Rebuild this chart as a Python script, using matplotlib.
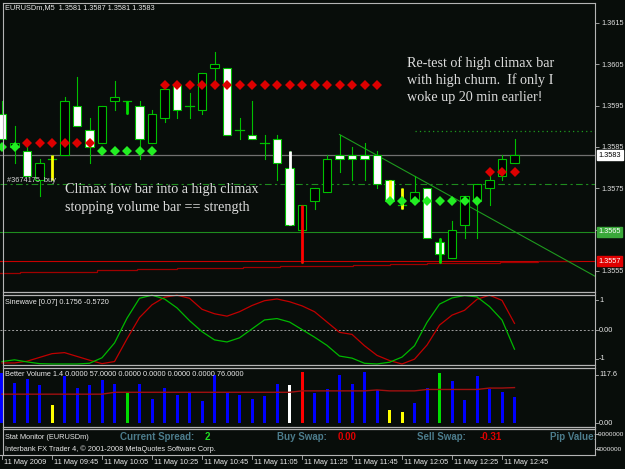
import numpy as np
import matplotlib
matplotlib.use('Agg')
import matplotlib.pyplot as plt
from matplotlib.patches import Rectangle
from matplotlib.lines import Line2D

# ---- data (EURUSDm, M5, 11 May 2009) ----
opens = [1.3593, 1.3585, 1.3584, 1.3577, 1.3582, 1.3583, 1.3595, 1.3589, 1.3586, 1.3596,
         1.3596, 1.3595, 1.3586, 1.3592, 1.3600, 1.3595, 1.3594, 1.3604, 1.3604, 1.3589,
         1.3588, 1.3586, 1.3587, 1.3580, 1.3565, 1.3572, 1.3574, 1.3583, 1.3583, 1.3583,
         1.3583, 1.3577, 1.3571, 1.3572, 1.3575, 1.3562, 1.3558, 1.3566, 1.3572, 1.3575,
         1.3578, 1.3581]
highs = [1.3596, 1.3590, 1.3585, 1.3582, 1.3583, 1.3597, 1.3602, 1.3592, 1.3595, 1.3601,
         1.3596, 1.3596, 1.3594, 1.3599, 1.3600, 1.3598, 1.3603, 1.3608, 1.3604, 1.3592,
         1.3596, 1.3588, 1.3588, 1.3584, 1.3571, 1.3575, 1.3583, 1.3588, 1.3585, 1.3586,
         1.3584, 1.3577, 1.3575, 1.3578, 1.3575, 1.3563, 1.3567, 1.3573, 1.3576, 1.3578,
         1.3583, 1.3587]
lows = [1.3587, 1.3581, 1.3578, 1.3573, 1.3577, 1.3583, 1.3590, 1.3581, 1.3586, 1.3594,
        1.3593, 1.3582, 1.3586, 1.3591, 1.3592, 1.3592, 1.3593, 1.3601, 1.3588, 1.3587,
        1.3587, 1.3582, 1.3577, 1.3566, 1.3557, 1.3570, 1.3574, 1.3579, 1.3577, 1.3577,
        1.3575, 1.3572, 1.3570, 1.3572, 1.3563, 1.3557, 1.3558, 1.3563, 1.3563, 1.3571,
        1.3577, 1.3581]
closes = [1.3587, 1.3586, 1.3578, 1.3581, 1.3582, 1.3596, 1.3590, 1.3585, 1.3595, 1.3597,
          1.3596, 1.3587, 1.3593, 1.3599, 1.3594, 1.3595, 1.3603, 1.3605, 1.3588, 1.3589,
          1.3587, 1.3586, 1.3581, 1.3566, 1.3571, 1.3575, 1.3582, 1.3582, 1.3582, 1.3582,
          1.3576, 1.3572, 1.3571, 1.3574, 1.3563, 1.3559, 1.3565, 1.3573, 1.3576, 1.3577,
          1.3582, 1.3583]

green_dots_x = [0, 1, 8, 9, 10, 11, 12, 31, 32, 33, 34, 35, 36, 37, 38]
green_dots_y = [1.3585, 1.3585] + [1.3584] * 5 + [1.3572] * 8
red_dots_x = [2, 3, 4, 5, 6, 7] + list(range(13, 31)) + [39, 40, 41]
red_dots_y = [1.3586] * 6 + [1.3600] * 18 + [1.3579] * 3

# dark red stepped line near the lows
step_edges = [-0.2, 1.4, 4.6, 7.6, 10.8, 14.0, 19.3, 22.2, 25.2, 28.1, 31.0, 34.0,
              36.9, 39.8, 42.9, 46.0]
step_vals = [1.35544, 1.35547, 1.35548, 1.35551, 1.35554, 1.35556, 1.35560, 1.35561,
             1.35562, 1.35564, 1.35566, 1.35568, 1.35570, 1.35572, 1.35574]

bid = 1.3583
order_price = 1.3576
green_level = 1.35645
red_level = 1.35573
dotted_level = 1.35889
dotted_start = 33
trend_x = [27, 41]
trend_y = [1.3588, 1.35645]
price_ticks = [1.3555, 1.3565, 1.3575, 1.3585, 1.3595, 1.3605, 1.3615]
price_tick_labels = ['1.3555', '', '1.3575', '1.3585', '1.3595', '1.3605', '1.3615']
boxed_labels = [(bid, '1.3583', 'white', 'black'),
                (green_level, '1.3565', '#3aa83a', 'white'),
                (red_level, '1.3557', '#e00000', 'white')]

sine_green = [-0.93, -0.88, -0.94, -0.99, -1.00, -1.00, -1.00, -0.98, -0.82, -0.39,
              0.33, 0.91, 1.00, 0.89, 0.63, 0.26, -0.06, -0.30, -0.36, -0.24,
              0.02, 0.28, 0.32, 0.22, 0.00, -0.22, -0.46, -0.77, -0.83, -0.98,
              -1.00, -0.95, -0.80, -0.47, 0.21, 0.74, 0.92, 0.99, 0.95, 0.67,
              0.28, -0.57]
sine_red = [-0.97, -0.97, -0.92, -0.81, -0.70, -0.67, -0.78, -0.89, -0.99, -0.93,
            -0.27, 0.35, 0.72, 0.94, 1.00, 0.91, 0.59, 0.46, 0.39, 0.52,
            0.70, 0.84, 0.89, 0.81, 0.69, 0.52, 0.22, -0.08, -0.14, -0.47,
            -0.75, -0.90, -1.00, -0.86, -0.45, 0.13, 0.42, 0.56, 0.88, 1.00,
            0.85, 0.18]

volume = [107, 86, 95, 81, 39, 100, 75, 81, 93, 84, 67, 84, 51, 75, 60, 67, 47, 102, 65, 60,
          51, 58, 84, 82, 109, 65, 74, 103, 84, 110, 70, 28, 24, 43, 76, 107, 89, 49, 100, 74,
          67, 57]
vol_avg = [62, 62, 62, 62, 62, 62, 62, 62, 62, 66, 66, 66, 66, 66, 66, 66, 66, 66, 66, 66,
           66, 66, 66, 66, 69, 69, 69, 69, 69, 69, 71, 69, 69, 69, 72, 72, 72, 72, 72, 75,
           75, 76]
vol_type = ['n', 'n', 'n', 'n', 'low', 'n', 'n', 'n', 'n', 'n', 'churn', 'n', 'n', 'n', 'n',
            'n', 'n', 'n', 'n', 'n', 'n', 'n', 'n', 'climax_lo', 'climax_hi', 'n', 'n', 'n',
            'n', 'n', 'n', 'low', 'low', 'n', 'n', 'churn', 'n', 'n', 'n', 'n', 'n', 'n']

time_labels = ['11 May 2009', '11 May 09:45', '11 May 10:05', '11 May 10:25', '11 May 10:45',
               '11 May 11:05', '11 May 11:25', '11 May 11:45', '11 May 12:05', '11 May 12:25',
               '11 May 12:45']

# ---- styling ----
W, H = 625, 469
BG = '#080d0a'
FRAME = '#b4b4b4'
CGREEN = '#00c000'
VCOL = {'n': '#0000ff', 'low': '#ffff00', 'churn': '#00dd00',
        'climax_lo': '#ffffff', 'climax_hi': '#ff0000'}
UI = 'Liberation Sans'
FS = 5.3
XL = (-2 / 12.5, 593 / 12.5)

fig = plt.figure(figsize=(W / 100, H / 100), dpi=100, facecolor=BG)


def px_axes(x0, y0, x1, y1):
    ax = fig.add_axes([x0 / W, 1 - y1 / H, (x1 - x0) / W, (y1 - y0) / H])
    ax.set_facecolor(BG)
    for s in ax.spines.values():
        s.set_visible(False)
    ax.set_xticks([])
    ax.set_yticks([])
    ax.set_xlim(*XL)
    return ax


def ptext(x, y, s, **kw):
    kw.setdefault('family', UI)
    kw.setdefault('fontsize', FS)
    kw.setdefault('color', '#e8e8e8')
    return fig.text(x / W, 1 - y / H, s, va='center', **kw)


def pline(xs, ys, color=FRAME, lw=0.8, **kw):
    fig.add_artist(Line2D([x / W for x in xs], [1 - y / H for y in ys],
                          color=color, lw=lw, **kw))


idx = np.arange(len(opens))

# ---- main price panel ----
ax = px_axes(0, 3, 595, 292)
ax.set_ylim(1.354987, 1.361984)

ax.axhline(bid, color='#707070', lw=0.9, zorder=1)
ax.axhline(order_price, color='#1e8c1e', lw=0.8, ls=(0, (6, 3, 2, 3)), zorder=1)
ax.axhline(green_level, color='#1e8c1e', lw=0.8, zorder=1)
ax.axhline(red_level, color='#c80000', lw=0.8, zorder=1)
ax.plot([dotted_start, XL[1]], [dotted_level, dotted_level], color='#1e9a1e', lw=0.9,
        ls=(0, (1, 2.5)), zorder=1)
ax.stairs(step_vals, step_edges, color='#a00000', lw=0.9, baseline=None, zorder=1)
slope = (trend_y[1] - trend_y[0]) / (trend_x[1] - trend_x[0])
ax.plot([trend_x[0], XL[1]], [trend_y[0], trend_y[0] + slope * (XL[1] - trend_x[0])],
        color='#1e9a1e', lw=0.8, zorder=1)

bw = 0.66
for i, o, h, l, c in zip(idx, opens, highs, lows, closes):
    ax.plot([i, i], [l, h], color=CGREEN, lw=0.8, zorder=3)
    if c == o:
        ax.plot([i - bw / 2, i + bw / 2], [c, c], color=CGREEN, lw=0.9, zorder=4)
    else:
        fc = 'black' if c > o else 'white'
        ax.add_patch(Rectangle((i - bw / 2, min(o, c)), bw, abs(c - o), fc=fc,
                               ec=CGREEN, lw=0.8, zorder=4))
    if vol_type[i] != 'n':
        ax.plot([i, i], [l, h], color=VCOL[vol_type[i]], lw=2.0, zorder=5,
                solid_capstyle='butt')

ax.plot(green_dots_x, green_dots_y, 'D', color='#22ee22', ms=5.2, mew=0, zorder=6)
ax.plot(red_dots_x, red_dots_y, 'D', color='#dd0000', ms=5.2, mew=0, zorder=6)

ax.yaxis.tick_right()
ax.set_yticks(price_ticks)
ax.set_yticklabels(price_tick_labels)
ax.tick_params(axis='y', length=3, width=0.6, color=FRAME, labelcolor='#e0e0e0',
               labelsize=FS, pad=1.5)
for lab in ax.get_yticklabels():
    lab.set_family(UI)

ytr = ax.get_yaxis_transform()
for val, txt, fc, tc in boxed_labels:
    ax.text(1.006, val, txt, transform=ytr, ha='left', va='center',
            family=UI, fontsize=FS, color=tc, clip_on=False, zorder=10,
            bbox=dict(boxstyle='square,pad=0.2', fc=fc, ec=fc))

ax.text(0.012, order_price, '#3674175  buy', transform=ytr, va='bottom', family=UI,
        fontsize=FS, color='#d8d8d8', zorder=7)

serif = dict(family='Liberation Serif', fontsize=10.2, color='#dcdcdc')
ptext(407, 63, 'Re-test of high climax bar', **serif)
ptext(407, 80.5, 'with high churn.  If only I', **serif)
ptext(407, 98, 'woke up 20 min earlier!', **serif)
ptext(65, 189, 'Climax low bar into a high climax', **serif)
ptext(65, 207, 'stopping volume bar == strength', **serif)
ptext(5, 7.5, 'EURUSDm,M5  1.3581 1.3587 1.3581 1.3583')

# ---- sinewave panel ----
axs = px_axes(0, 294.5, 595, 365)
axs.set_ylim(-1.03, 1.02)
axs.axhline(0, color='#a0a0a0', lw=0.7, ls=(0, (2, 2)))
axs.plot(idx, sine_red, color='#c00000', lw=0.9)
axs.plot(idx, sine_green, color='#00b800', lw=0.9)
ptext(5, 302, 'Sinewave [0.07] 0.1756 -0.5720')
ptext(599, 300, '1')
ptext(599, 330, '0.00')
ptext(599, 359, '-1')

# ---- better volume panel ----
axv = px_axes(0, 367.5, 595, 427)
axv.set_ylim(-7.8, 118.7)
axv.bar(idx, volume, width=0.24, color=[VCOL[t] for t in vol_type], zorder=2)
axv.plot(idx, vol_avg, color='#a01010', lw=1.0, zorder=3)
ptext(5, 375, 'Better Volume 1.4 0.0000 57.0000 0.0000 0.0000 0.0000 0.0000 76.0000')
ptext(599, 375, '117.6')
ptext(599, 423, '0.00')

# ---- stat monitor panel ----
axm = fig.add_axes([0, 1 - 455 / H, 595 / W, 26 / H])
axm.set_facecolor(BG)
axm.set_xlim(0, 595)
axm.set_ylim(455, 429)
axm.set_xticks([])
axm.set_yticks([])
for s in axm.spines.values():
    s.set_visible(False)
lab = dict(family=UI, fontsize=7.0, fontweight='bold', color='#4c7c8c', va='center',
           clip_on=True)
axm.text(5, 437, 'Stat Monitor (EURUSDm)', family=UI, fontsize=FS, color='#e8e8e8',
         va='center')
axm.text(5, 449, 'Interbank FX Trader 4, \u00a9 2001-2008 MetaQuotes Software Corp.',
         family=UI, fontsize=FS, color='#e8e8e8', va='center')
axm.text(120, 437, 'Current Spread:', **lab)
axm.text(205, 437, '2', **dict(lab, color='#22dd22'))
axm.text(277, 437, 'Buy Swap:', **lab)
axm.text(338, 437, '0.00', **dict(lab, color='#e00000'))
axm.text(417, 437, 'Sell Swap:', **lab)
axm.text(480, 437, '-0.31', **dict(lab, color='#e00000'))
axm.text(550, 437, 'Pip Value:', **lab)
ptext(597, 434, '-9000000', fontsize=4.6)
ptext(597, 449, '9000000', fontsize=4.6)

# ---- frame and separators ----
pline([3, 595], [3, 3])
pline([3, 3], [3, 455])
pline([595, 595], [3, 455])
for y in [292, 294.5, 365, 367.5, 427, 429]:
    pline([3, 595], [y, y], lw=0.9)
pline([0, 595], [455, 455])
for yv in [300, 330, 359, 375, 423, 434, 449]:
    pline([595, 598], [yv, yv], lw=0.6)

# ---- time axis ----
for k, t in enumerate(time_labels):
    xp = 2 + 50 * k
    pline([xp, xp], [455, 459], lw=0.6)
    ptext(xp + 2, 462.5, t)

fig.savefig('out.png', dpi=100, facecolor=BG)
